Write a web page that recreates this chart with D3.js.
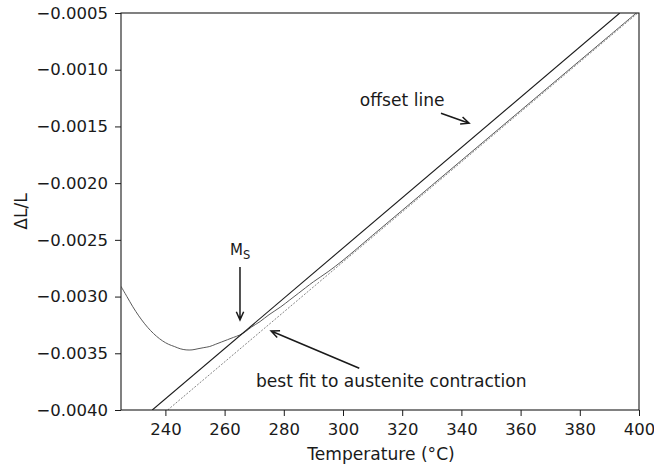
<!DOCTYPE html>
<html>
<head>
<meta charset="utf-8">
<script src="https://cdn.jsdelivr.net/npm/d3@7"></script>
<style>
  html, body { margin: 0; padding: 0; background: #fff; }
  svg { display: block; font-family: "DejaVu Sans", sans-serif; }
</style>
</head>
<body>
<svg id="chart" width="654" height="466"></svg>
<script>
// Dilatometry cooling curve: temperature (°C) and relative length change ΔL/L
const temperature = [225, 227, 229, 231, 233, 235, 237, 239, 241, 243, 245, 247, 249, 251, 253, 255,
  257, 259, 261, 263, 265, 267, 269, 272, 275, 279, 282, 285, 290, 295, 300, 310, 320, 330, 340,
  350, 360, 370, 380, 390, 400];
const strain = [-0.00291, -0.00300, -0.00309, -0.00317, -0.00324, -0.00330, -0.00335, -0.00339,
  -0.00342, -0.00344, -0.00346, -0.00347, -0.00347, -0.00346, -0.00345, -0.00344, -0.00342,
  -0.00340, -0.00338, -0.00336, -0.00334, -0.00331, -0.00327, -0.00322, -0.00316, -0.00309,
  -0.00303, -0.00297, -0.00287, -0.00278, -0.00268, -0.00246, -0.00224, -0.00202, -0.00180,
  -0.00158, -0.00136, -0.00114, -0.00092, -0.00070, -0.00048];

// Linear fit to the austenite contraction and the offset line (end points)
const fitLine = [[240.77, -0.0040], [399.6, -0.0005]];
const offsetLine = [[235.57, -0.0040], [393.5, -0.0005]];

// Axis ticks
const xTicks = [240, 260, 280, 300, 320, 340, 360, 380, 400];
const yTicks = [-0.0040, -0.0035, -0.0030, -0.0025, -0.0020, -0.0015, -0.0010, -0.0005];

const xDomain = [225, 400];
const yDomain = [-0.0040, -0.0005];

const svg = d3.select("#chart");
const margin = { left: 121, right: 15, top: 13, bottom: 56 };
const W = 654, H = 466;

const x = d3.scaleLinear().domain(xDomain).range([margin.left, W - margin.right]);
const y = d3.scaleLinear().domain(yDomain).range([H - margin.bottom, margin.top]);

const tickFont = "16.5px";
const labelFont = "17.1px";
const ink = "#1a1a1a";

svg.append("defs").append("clipPath").attr("id", "plotClip")
  .append("rect")
  .attr("x", x.range()[0]).attr("y", y.range()[1])
  .attr("width", x.range()[1] - x.range()[0])
  .attr("height", y.range()[0] - y.range()[1]);

const plot = svg.append("g").attr("clip-path", "url(#plotClip)");
const straight = d3.line().x(d => x(d[0])).y(d => y(d[1]));
const smooth = d3.line().x(d => x(d[0])).y(d => y(d[1])).curve(d3.curveCatmullRom);

// Best fit line (dotted)
plot.append("path").datum(fitLine)
  .attr("d", straight).attr("fill", "none")
  .attr("stroke", "#777").attr("stroke-width", 0.9)
  .attr("stroke-dasharray", "2,1.5");

// Measured curve
plot.append("path").datum(temperature.map((t, i) => [t, strain[i]]))
  .attr("d", smooth).attr("fill", "none")
  .attr("stroke", "#5a5a5a").attr("stroke-width", 1);

// Offset line
plot.append("path").datum(offsetLine)
  .attr("d", straight)
  .attr("fill", "none").attr("stroke", ink).attr("stroke-width", 1.1);

// Axes
const xAxis = d3.axisBottom(x).tickValues(xTicks).tickFormat(d3.format("d"))
  .tickSize(6).tickPadding(7);
const yAxis = d3.axisLeft(y).tickValues(yTicks).tickFormat(d3.format(".4f"))
  .tickSize(6).tickPadding(7);

const gx = svg.append("g").attr("transform", `translate(0,${y.range()[0]})`).call(xAxis);
const gy = svg.append("g").attr("transform", `translate(${x.range()[0]},0)`).call(yAxis);
[gx, gy].forEach(g => {
  g.select(".domain").remove();
  g.selectAll(".tick line").attr("stroke", ink).attr("stroke-width", 1);
  g.selectAll(".tick text").attr("fill", ink).style("font-size", tickFont)
    .style("font-family", "DejaVu Sans");
});

// Frame
svg.append("rect")
  .attr("x", x.range()[0]).attr("y", y.range()[1])
  .attr("width", x.range()[1] - x.range()[0])
  .attr("height", y.range()[0] - y.range()[1])
  .attr("fill", "none").attr("stroke", ink).attr("stroke-width", 1.1);

// Axis labels
svg.append("text")
  .attr("x", (x.range()[0] + x.range()[1]) / 2 + 1).attr("y", 459.5)
  .attr("text-anchor", "middle").attr("fill", ink).style("font-size", labelFont)
  .text("Temperature (°C)");
svg.append("text")
  .attr("transform", `translate(26.5,${(y.range()[0] + y.range()[1]) / 2}) rotate(-90)`)
  .attr("text-anchor", "middle").attr("fill", ink).style("font-size", labelFont)
  .text("ΔL/L");

// Annotations (data coordinates)
const notes = [
  { text: "offset line", at: [305.7, -0.00132], from: [333.1, -0.001384], to: [342.6, -0.001472] },
  { text: "best fit to austenite contraction", at: [270.6, -0.003795], from: [305.5, -0.003632], to: [275.7, -0.003303] }
];
const msNote = { at: [261.8, -0.002633], from: [265.2, -0.002739], to: [265.2, -0.003206] };

function arrow(from, to) {
  const x1 = x(from[0]), y1 = y(from[1]), x2 = x(to[0]), y2 = y(to[1]);
  const ang = Math.atan2(y2 - y1, x2 - x1);
  const L = 9, spread = 0.42;
  const p = d3.path();
  p.moveTo(x1, y1); p.lineTo(x2, y2);
  p.moveTo(x2 - L * Math.cos(ang - spread), y2 - L * Math.sin(ang - spread));
  p.lineTo(x2, y2);
  p.lineTo(x2 - L * Math.cos(ang + spread), y2 - L * Math.sin(ang + spread));
  svg.append("path").attr("d", p.toString()).attr("fill", "none")
    .attr("stroke", ink).attr("stroke-width", 1.5)
    .attr("stroke-linejoin", "miter").attr("stroke-linecap", "butt");
}

notes.forEach(n => {
  svg.append("text").attr("x", x(n.at[0])).attr("y", y(n.at[1]))
    .attr("fill", ink).style("font-size", labelFont).text(n.text);
  arrow(n.from, n.to);
});

const ms = svg.append("text").attr("x", x(msNote.at[0])).attr("y", y(msNote.at[1]))
  .attr("fill", ink).style("font-size", "15px");
ms.append("tspan").text("M");
ms.append("tspan").attr("dy", 4).style("font-size", "11.5px").text("S");
arrow(msNote.from, msNote.to);
</script>
</body>
</html>
